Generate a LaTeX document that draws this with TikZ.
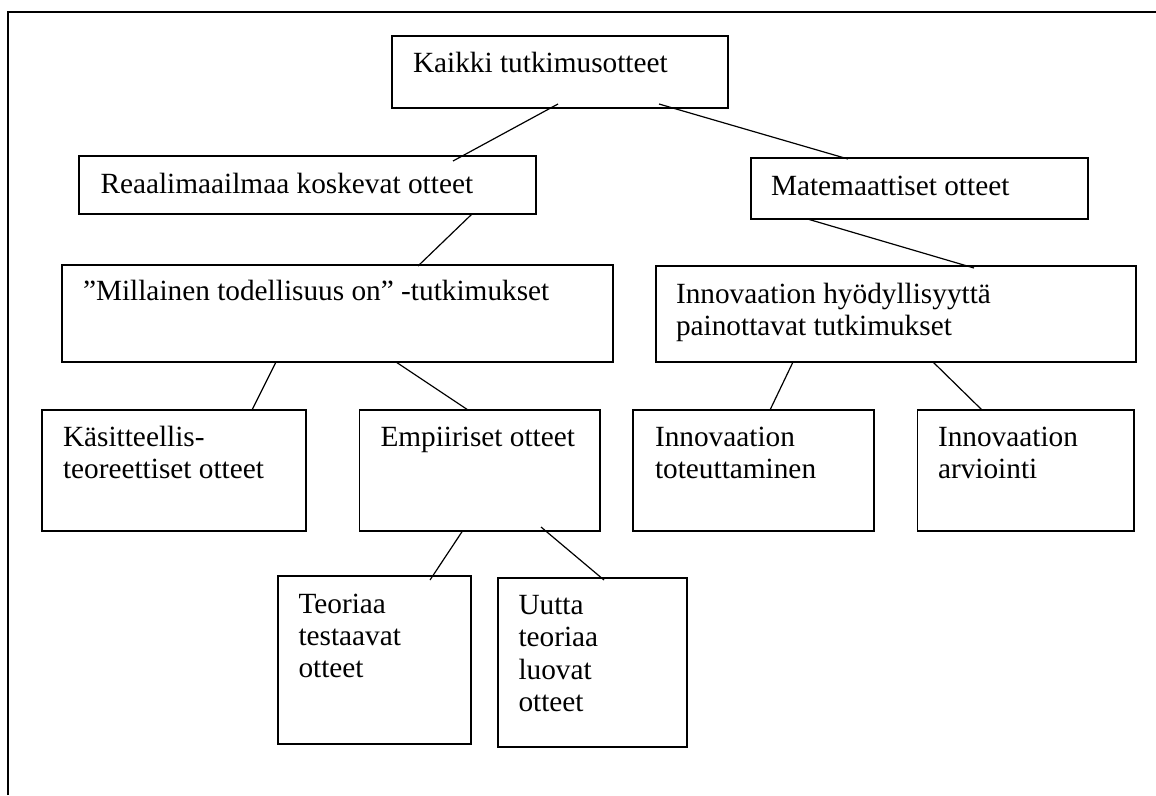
\documentclass[tikz,border=0pt]{standalone}
\usepackage{fontspec}
\setmainfont{Liberation Serif}
% left-aligned block whose reference point is the first baseline
\newcommand\boxtext[1]{\begin{tabular}[t]{@{}l@{}}#1\end{tabular}}
\begin{document}
\begin{tikzpicture}[x=1pt,y=-1pt,
  box/.style={draw, line width=1.2pt, inner sep=0pt, outer sep=0pt, anchor=north west},
  lbl/.style={inner sep=0pt, outer sep=0pt, anchor=base west,
              font=\fontsize{29.3}{32.4}\selectfont},
  link/.style={line width=1.2pt},
  border/.style={line width=1.2pt}]
\useasboundingbox (0,0) rectangle (1156,795);

% page frame (left and top edges)
\draw[border] (8,795) -- (8,12) -- (1156,12);

% boxes
\node[box, minimum width=336pt, minimum height=72pt]  (kaikki) at (392,36)  {};
\node[box, minimum width=457pt, minimum height=58pt]  (reaali) at (79,156)  {};
\node[box, minimum width=337pt, minimum height=61pt]  (mate)   at (751,158) {};
\node[box, minimum width=551pt, minimum height=97pt]  (mill)   at (62,265)  {};
\node[box, minimum width=480pt, minimum height=96pt]  (innov)  at (656,266) {};
\node[box, minimum width=264pt, minimum height=121pt] (kasit)  at (42,410)  {};
\node[box, minimum width=240.5pt, minimum height=121pt] (empiir) at (359.5,410) {};
\node[box, minimum width=241pt, minimum height=121pt] (toteut) at (633,410) {};
\node[box, minimum width=216.5pt, minimum height=121pt] (arvio) at (917.5,410) {};
\node[box, minimum width=193pt, minimum height=168pt] (teoria) at (278,576) {};
\node[box, minimum width=189pt, minimum height=169pt] (uutta)  at (498,578) {};

% box texts
\node[lbl] (kaikki-t) at ([shift={(21,36.5)}]kaikki.north west) {\boxtext{Kaikki tutkimusotteet}};
\node[lbl] (reaali-t) at ([shift={(21.5,37)}]reaali.north west) {\boxtext{Reaalimaailmaa koskevat otteet}};
\node[lbl] (mate-t)   at ([shift={(20,37)}]mate.north west)   {\boxtext{Matemaattiset otteet}};
\node[lbl] (mill-t)   at ([shift={(21,35.5)}]mill.north west)   {\boxtext{”Millainen todellisuus on” -tutkimukset}};
\node[lbl] (innov-t)  at ([shift={(20,37.5)}]innov.north west)  {\boxtext{Innovaation hyödyllisyyttä\\painottavat tutkimukset}};
\node[lbl] (kasit-t)  at ([shift={(21,36)}]kasit.north west)  {\boxtext{Käsitteellis-\\teoreettiset otteet}};
\node[lbl] (empiir-t) at ([shift={(21,36)}]empiir.north west) {\boxtext{Empiiriset otteet}};
\node[lbl] (toteut-t) at ([shift={(22,36)}]toteut.north west) {\boxtext{Innovaation\\toteuttaminen}};
\node[lbl] (arvio-t)  at ([shift={(20.5,36)}]arvio.north west)  {\boxtext{Innovaation\\arviointi}};
\node[lbl] (teoria-t) at ([shift={(20.5,37)}]teoria.north west) {\boxtext{Teoriaa\\testaavat\\otteet}};
\node[lbl] (uutta-t)  at ([shift={(20.5,36.5)}]uutta.north west)  {\boxtext{Uutta\\teoriaa\\luovat\\otteet}};

% connectors
\draw[link] ([shift={(166,-4)}]kaikki.south west) -- ([shift={(374,5)}]reaali.north west);
\draw[link] ([shift={(267,-4)}]kaikki.south west) -- ([shift={(97,1)}]mate.north west);
\draw[link] ([shift={(393,0)}]reaali.south west) -- ([shift={(356,1)}]mill.north west);
\draw[link] ([shift={(56.5,0)}]mate.south west) -- ([shift={(318,2)}]innov.north west);
\draw[link] ([shift={(214,0)}]mill.south west) -- ([shift={(210,0)}]kasit.north west);
\draw[link] ([shift={(334,0)}]mill.south west) -- ([shift={(108.5,0)}]empiir.north west);
\draw[link] ([shift={(137,0)}]innov.south west) -- ([shift={(137,0)}]toteut.north west);
\draw[link] ([shift={(277,0)}]innov.south west) -- ([shift={(64.5,0)}]arvio.north west);
\draw[link] ([shift={(103,0)}]empiir.south west) -- ([shift={(152,4)}]teoria.north west);
\draw[link] ([shift={(181.5,-4)}]empiir.south west) -- ([shift={(106,2)}]uutta.north west);
\end{tikzpicture}
\end{document}
